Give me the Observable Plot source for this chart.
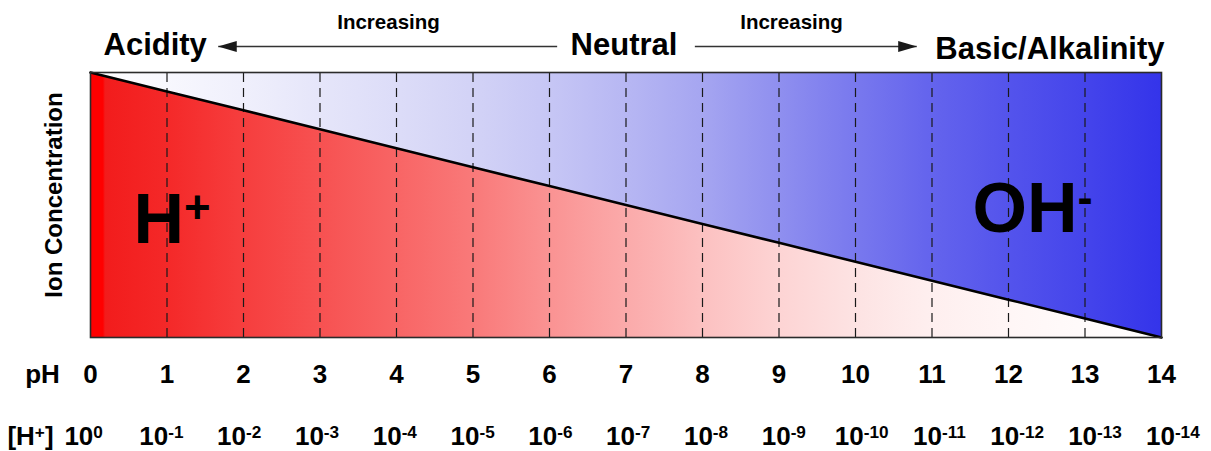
<!DOCTYPE html>
<html>
<head>
<meta charset="utf-8">
<script src="https://cdn.jsdelivr.net/npm/d3@7"></script>
<script src="https://cdn.jsdelivr.net/npm/@observablehq/plot@0.6"></script>
<style>
  html, body { margin: 0; padding: 0; background: #fff; }
</style>
</head>
<body>
<div id="chart"></div>
<script>
// ---- data ----
const pH = [0, 1, 2, 3, 4, 5, 6, 7, 8, 9, 10, 11, 12, 13, 14];
const logH = [0, -1, -2, -3, -4, -5, -6, -7, -8, -9, -10, -11, -12, -13, -14];
const dividers = [1, 2, 3, 4, 5, 6, 7, 8, 9, 10, 11, 12, 13];
const pHLabels = ["0", "1", "2", "3", "4", "5", "6", "7", "8", "9", "10", "11", "12", "13", "14"];
const hLabels = ["10^{0}", "10^{-1}", "10^{-2}", "10^{-3}", "10^{-4}", "10^{-5}", "10^{-6}", "10^{-7}",
                 "10^{-8}", "10^{-9}", "10^{-10}", "10^{-11}", "10^{-12}", "10^{-13}", "10^{-14}"];
const headLeft = ["Acidity"];
const headMid = ["Neutral"];
const headRight = ["Basic/Alkalinity"];
const arrowWord = ["Increasing"];
const axisTitle = ["Ion Concentration"];
const ionH = ["H^{+}"];
const ionOH = ["OH^{-}"];
const rowTitlePH = ["pH"];
const rowTitleH = ["[H^{+}]"];

const rows = pH.map((p, i) => ({pH: p, logH: logH[i]}));

const font = "'Liberation Sans', Arial, Helvetica, sans-serif";
const rowSpread = 1.017, rowShift = -0.09; // [H+] row is slightly wider than the pH row

const chart = Plot.plot({
  width: 1211,
  height: 451,
  marginLeft: 90,
  marginRight: 50,
  marginTop: 72,
  marginBottom: 114,
  x: {domain: [0, 14], axis: null},
  y: {domain: [-14, 0], axis: null},
  style: {fontFamily: font, background: "#fff", overflow: "visible"},
  marks: [
    // H+ region (below diagonal) and OH- region (above diagonal)
    Plot.areaY(rows, {x: "pH", y1: -14, y2: "logH", fill: "url(#redGrad)"}),
    Plot.areaY(rows, {x: "pH", y1: "logH", y2: 0, fill: "url(#blueGrad)"}),
    // dashed pH dividers
    Plot.ruleX(dividers, {y1: -14, y2: 0, stroke: "#1a1a1a", strokeWidth: 1.2, strokeDasharray: "9,6"}),
    // diagonal
    Plot.line(rows, {x: "pH", y: "logH", stroke: "#000", strokeWidth: 2.6}),
    Plot.frame({stroke: "#2b2b2b", strokeWidth: 1.6}),
    // headings
    Plot.text(headLeft, {x: 0, y: 0, dx: 13, dy: -18, textAnchor: "start", lineAnchor: "bottom", fontSize: 31, fontWeight: "bold"}),
    Plot.text(headMid, {x: 7, y: 0, dx: -2, dy: -18, textAnchor: "middle", lineAnchor: "bottom", fontSize: 31, fontWeight: "bold"}),
    Plot.text(headRight, {x: 14, y: 0, dx: 3, dy: -14, textAnchor: "end", lineAnchor: "bottom", fontSize: 31, fontWeight: "bold"}),
    Plot.text(arrowWord, {x: 4, y: 0, dx: -8, dy: -44, textAnchor: "middle", lineAnchor: "bottom", fontSize: 20.5, fontWeight: "bold"}),
    Plot.text(arrowWord, {x: 9, y: 0, dx: 12.5, dy: -44, textAnchor: "middle", lineAnchor: "bottom", fontSize: 20.5, fontWeight: "bold"}),
    // arrows
    Plot.link([0], {x1: 6.1, x2: 1.67, y1: 0, y2: 0, dy: -26, stroke: "#333", strokeWidth: 1.6}),
    Plot.link([0], {x1: 7.9, x2: 10.8, y1: 0, y2: 0, dy: -26, stroke: "#333", strokeWidth: 1.6}),
    // y-axis title
    Plot.text(axisTitle, {x: 0, y: -7, dx: -36, dy: -10, rotate: -90, textAnchor: "middle", lineAnchor: "middle", fontSize: 24, fontWeight: "bold"}),
    // ion labels
    Plot.text(ionH, {x: 0, y: -9, dx: 43, textAnchor: "start", lineAnchor: "bottom", fontSize: 70, fontWeight: "bold"}),
    Plot.text(ionOH, {x: 12, y: -8, dx: -36, dy: 8.5, textAnchor: "start", lineAnchor: "bottom", fontSize: 70, fontWeight: "bold"}),
    // pH row
    Plot.text(pHLabels, {x: pH, y: -14, dy: 45, textAnchor: "middle", lineAnchor: "bottom", fontSize: 26, fontWeight: "bold"}),
    Plot.text(rowTitlePH, {x: 0, y: -14, dx: -48, dy: 45, textAnchor: "middle", lineAnchor: "bottom", fontSize: 26, fontWeight: "bold"}),
    // [H+] row
    Plot.text(hLabels, {x: pH.map(p => p * rowSpread + rowShift), y: -14, dy: 107, textAnchor: "middle", lineAnchor: "bottom", fontSize: 26, fontWeight: "bold"}),
    Plot.text(rowTitleH, {x: 0, y: -14, dx: -60, dy: 107, textAnchor: "middle", lineAnchor: "bottom", fontSize: 26, fontWeight: "bold"})
  ]
});

document.getElementById("chart").appendChild(chart);

// gradients and arrowhead marker
const svg = d3.select(chart);
const defs = svg.insert("defs", ":first-child");
function grad(id, stops) {
  const g = defs.append("linearGradient").attr("id", id).attr("x1", 0).attr("x2", 1).attr("y1", 0).attr("y2", 0);
  for (const [o, c] of stops) g.append("stop").attr("offset", o).attr("stop-color", c);
}
grad("redGrad", [
  [0, "#ff0000"], [0.012, "#ff0000"], [0.014, "#f21c1c"], [0.07, "#f42828"], [0.14, "#f63d3d"],
  [0.21, "#f75050"], [0.28, "#f86363"], [0.36, "#f97a7a"], [0.43, "#fa9393"], [0.5, "#fbaaaa"],
  [0.57, "#fcc0c0"], [0.64, "#fdd3d3"], [0.71, "#fde2e2"], [0.78, "#feeeee"], [0.86, "#fff6f6"], [1, "#ffffff"]
]);
grad("blueGrad", [
  [0, "#ffffff"], [0.07, "#f8f8fe"], [0.14, "#f0f0fc"], [0.21, "#e6e6fa"], [0.29, "#dcdcf8"],
  [0.36, "#d2d2f6"], [0.43, "#c6c6f5"], [0.5, "#b7b7f3"], [0.57, "#a6a6f1"], [0.64, "#9090ef"],
  [0.71, "#7a7aee"], [0.78, "#6565ed"], [0.86, "#5353ec"], [0.93, "#4444eb"], [1, "#3434ea"]
]);
const marker = defs.append("marker").attr("id", "arrowHead")
  .attr("markerUnits", "userSpaceOnUse").attr("markerWidth", 19).attr("markerHeight", 11)
  .attr("viewBox", "0 0 19 11").attr("refX", 18.5).attr("refY", 5.5).attr("orient", "auto");
marker.append("path").attr("d", "M0,0 L19,5.5 L0,11 Z").attr("fill", "#1a1a1a");
svg.selectAll('g[aria-label="link"] path').attr("marker-end", "url(#arrowHead)");

// superscripts
svg.selectAll("text").each(function () {
  const raw = this.textContent;
  if (!raw.includes("^{")) return;
  const fs = parseFloat(getComputedStyle(this).fontSize);
  const big = fs >= 50;
  const ratio = big ? 0.65 : 0.66;
  const shift = (big ? 0.28 : 0.26) * fs;
  const parts = raw.split(/(\^\{[^}]*\})/).filter(s => s.length);
  this.textContent = "";
  let raised = false;
  for (const part of parts) {
    const sup = part.startsWith("^{");
    const ts = d3.select(this).append("tspan").text(sup ? part.slice(2, -1) : part);
    if (sup) { ts.attr("dy", -shift).attr("font-size", fs * ratio); raised = true; }
    else if (raised) { ts.attr("dy", shift); raised = false; }
  }
});
</script>
</body>
</html>
